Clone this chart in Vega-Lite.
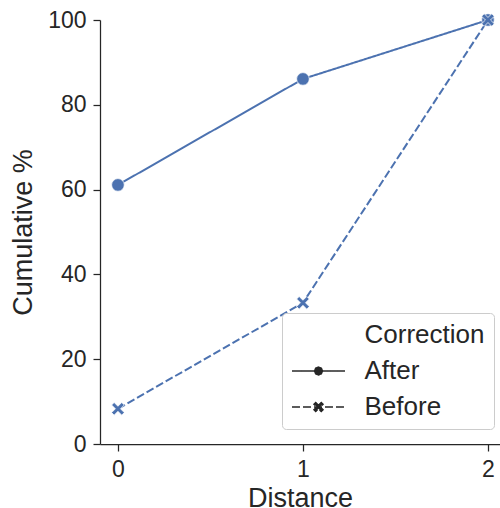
{
  "$schema": "https://vega.github.io/schema/vega-lite/v6.json",
  "width": 400,
  "height": 424,
  "autosize": {"type": "none"},
  "padding": {"left": 100, "top": 20, "right": 0, "bottom": 64},
  "background": "white",
  "config": {
    "view": {"stroke": null},
    "font": "Liberation Sans",
    "axis": {
      "labelFontSize": 23,
      "titleFontSize": 27,
      "titleFontWeight": "normal",
      "labelColor": "#262626",
      "titleColor": "#262626",
      "domainColor": "#262626",
      "tickColor": "#262626",
      "tickSize": 7,
      "tickWidth": 1.25,
      "domainWidth": 1.25,
      "grid": false,
      "labelPadding": 7
    }
  },
  "data": {
    "values": [
      {"Distance": 0, "Cumulative": 61.1, "Correction": "After"},
      {"Distance": 1, "Cumulative": 86.1, "Correction": "After"},
      {"Distance": 2, "Cumulative": 100, "Correction": "After"},
      {"Distance": 0, "Cumulative": 8.3, "Correction": "Before"},
      {"Distance": 1, "Cumulative": 33.3, "Correction": "Before"},
      {"Distance": 2, "Cumulative": 100, "Correction": "Before"}
    ]
  },
  "resolve": {"scale": {"shape": "independent", "strokeDash": "independent"}},
  "layer": [
    {
      "mark": {"type": "line", "color": "#4c72b0", "strokeWidth": 2},
      "encoding": {
        "x": {
          "field": "Distance",
          "type": "quantitative",
          "scale": {"domain": [-0.097, 2.065], "nice": false, "zero": false},
          "axis": {"values": [0, 1, 2], "format": "d", "title": "Distance", "titlePadding": 4}
        },
        "y": {
          "field": "Cumulative",
          "type": "quantitative",
          "scale": {"domain": [0, 100], "nice": false},
          "axis": {"values": [0, 20, 40, 60, 80, 100], "title": "Cumulative %", "titlePadding": 10}
        },
        "strokeDash": {
          "field": "Correction",
          "type": "nominal",
          "scale": {"domain": ["After", "Before"], "range": [[1, 0], [8, 3]]},
          "legend": null
        }
      }
    },
    {
      "mark": {"type": "point", "filled": true, "color": "#4c72b0", "size": 160, "opacity": 1, "stroke": "white", "strokeWidth": 0.75},
      "encoding": {
        "x": {"field": "Distance", "type": "quantitative"},
        "y": {"field": "Cumulative", "type": "quantitative"},
        "shape": {
          "field": "Correction",
          "type": "nominal",
          "scale": {"domain": ["After", "Before"], "range": ["circle", "M0,-0.4L0.6,-1L1,-0.6L0.4,0L1,0.6L0.6,1L0,0.4L-0.6,1L-1,0.6L-0.4,0L-1,-0.6L-0.6,-1Z"]},
          "legend": null
        }
      }
    },
    {
      "data": {"values": []},
      "mark": {"type": "point", "filled": true, "fill": "#262626", "stroke": "#262626", "strokeWidth": 1.5, "size": 484, "opacity": 1},
      "encoding": {
        "shape": {
          "field": "Correction",
          "type": "nominal",
          "scale": {
            "domain": ["Correction", "After", "Before"],
            "range": [
              "M0,0",
              "M-2.41,0L2.41,0M0.36,0L0.255,0.255L0,0.36L-0.255,0.255L-0.36,0L-0.255,-0.255L0,-0.36L0.255,-0.255Z",
              "M-2.41,0L2.41,0M0,-0.16L0.25,-0.41L0.41,-0.25L0.16,0L0.41,0.25L0.25,0.41L0,0.16L-0.25,0.41L-0.41,0.25L-0.16,0L-0.41,-0.25L-0.25,-0.41Z"
            ]
          },
          "legend": {
            "orient": "none",
            "legendX": 182,
            "legendY": 293,
            "title": null,
            "labelFontSize": 26,
            "labelColor": "#262626",
            "symbolSize": 484,
            "symbolOffset": 14.5,
            "symbolStrokeWidth": 1.5,
            "symbolOpacity": 1,
            "labelOffset": 33,
            "padding": 9,
            "rowPadding": 10,
            "fillColor": "white",
            "strokeColor": "#cccccc",
            "cornerRadius": 4
          }
        },
        "strokeDash": {
          "field": "Correction",
          "type": "nominal",
          "scale": {"domain": ["Correction", "After", "Before"], "range": [[1, 0], [1, 0], [8, 3]]},
          "legend": {
            "orient": "none",
            "legendX": 182,
            "legendY": 293,
            "title": null,
            "labelFontSize": 26,
            "labelColor": "#262626",
            "symbolSize": 484,
            "symbolOffset": 14.5,
            "symbolStrokeWidth": 1.5,
            "symbolOpacity": 1,
            "labelOffset": 33,
            "padding": 9,
            "rowPadding": 10,
            "fillColor": "white",
            "strokeColor": "#cccccc",
            "cornerRadius": 4
          }
        }
      }
    }
  ]
}
